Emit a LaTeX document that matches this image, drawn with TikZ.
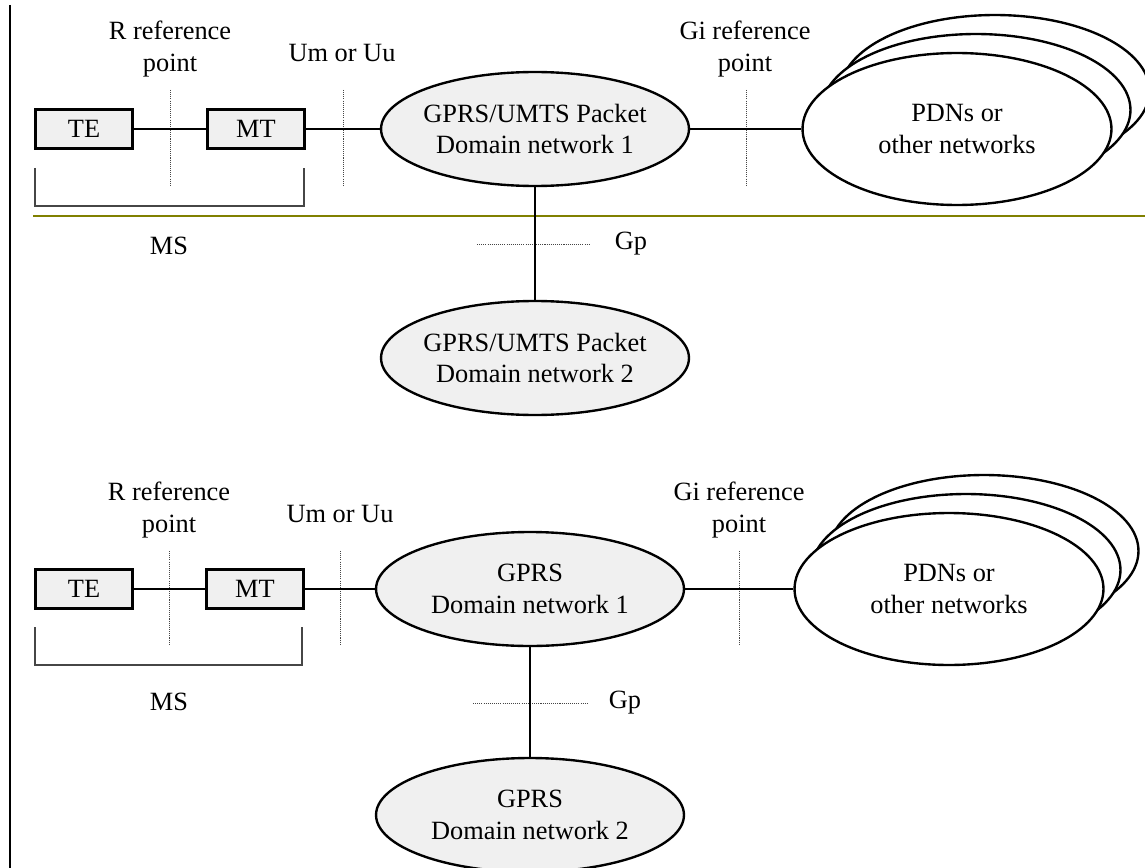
\documentclass[tikz,border=0pt]{standalone}
\usepackage{fontspec}
\setmainfont{Liberation Serif}
\usetikzlibrary{shapes.geometric}
\definecolor{boxfill}{RGB}{240,240,240}
\definecolor{splitline}{RGB}{128,128,0}
\definecolor{refgray}{RGB}{70,70,70}

\begin{document}
\begin{tikzpicture}[
  x=0.02cm, y=-0.02cm,
  font=\fontsize{15}{18}\selectfont,
  unit/.style={draw,fill=boxfill,line width=1.35pt,minimum width=1.94cm,
    minimum height=0.78cm,inner sep=0pt},
  net/.style={ellipse,draw,fill=boxfill,line width=1.35pt,minimum width=6.16cm,
    minimum height=2.28cm,inner sep=0pt},
  pdn/.style={ellipse,draw,fill=white,line width=1.35pt,minimum width=6.18cm,
    minimum height=3.04cm,inner sep=0pt,align=center},
  lbl/.style={align=center,inner sep=0pt},
  link/.style={line width=1.35pt},
  refline/.style={draw=refgray,line width=0.5pt,dash pattern=on 0.6pt off 0.6pt},
  bracket/.style={draw=refgray,line width=0.6pt}
]
  \useasboundingbox (0,0) rectangle (1145,868);

  \draw[line width=1.2pt] (10,5) -- (10,868);
  \draw[splitline,line width=1.3pt] (33,216) -- (1145,216);

  \node[unit] (te-a) at (84,129) {TE};
  \node[unit] (mt-a) at (256,129) {MT};
  \node[net] (pd1-a) at (535,129) {};
  \node[lbl] (pd1-a-text) at (pd1-a) {GPRS/UMTS Packet\\Domain network 1};
  \node[net] (pd2-a) at (535,358) {};
  \node[lbl] (pd2-a-text) at (pd2-a) {GPRS/UMTS Packet\\Domain network 2};
  \node[pdn] (pdn-a3) at (995,91) {};
  \node[pdn] (pdn-a2) at (976,110) {};
  \node[pdn] (pdn-a1) at (957,129) {PDNs or\\other networks};

  \node[lbl] (r-a) at (170,49) {R reference\\point};
  \node[lbl] (um-a) at (342,53) {Um or Uu};
  \node[lbl] (gi-a) at (745,49) {Gi reference\\point};
  \node[lbl] (ms-a) at (169,246) {MS};
  \node[lbl] (gp-a) at (631,244) {Gp};

  \draw[refline] (170,90) -- (170,185);
  \draw[refline] (343,90) -- (343,185);
  \draw[refline] (746,90) -- (746,185);
  \draw[refline] (477,244) -- (590,244);
  \draw[bracket] (35,168) |- (304,206) -- (304,168);

  \draw[link] (te-a) -- (mt-a);
  \draw[link] (mt-a) -- (pd1-a);
  \draw[link] (pd1-a) -- (pdn-a1);
  \draw[link] (pd1-a) -- (pd2-a);

  \node[unit] (te-b) at (84,589) {TE};
  \node[unit] (mt-b) at (255,589) {MT};
  \node[net] (pd1-b) at (530,589) {};
  \node[lbl] (pd1-b-text) at (pd1-b) {GPRS\\Domain network 1};
  \node[net] (pd2-b) at (530,815) {};
  \node[lbl] (pd2-b-text) at (pd2-b) {GPRS\\Domain network 2};
  \node[pdn] (pdn-b3) at (984,551) {};
  \node[pdn] (pdn-b2) at (966,570) {};
  \node[pdn] (pdn-b1) at (949,589) {PDNs or\\other networks};

  \node[lbl] (r-b) at (169,510) {R reference\\point};
  \node[lbl] (um-b) at (340,514) {Um or Uu};
  \node[lbl] (gi-b) at (739,510) {Gi reference\\point};
  \node[lbl] (ms-b) at (169,702) {MS};
  \node[lbl] (gp-b) at (625,703) {Gp};

  \draw[refline] (169,551) -- (169,645);
  \draw[refline] (340,551) -- (340,645);
  \draw[refline] (739,551) -- (739,645);
  \draw[refline] (473,703) -- (588,703);
  \draw[bracket] (35,627) |- (302,665) -- (302,627);

  \draw[link] (te-b) -- (mt-b);
  \draw[link] (mt-b) -- (pd1-b);
  \draw[link] (pd1-b) -- (pdn-b1);
  \draw[link] (pd1-b) -- (pd2-b);
\end{tikzpicture}
\end{document}
